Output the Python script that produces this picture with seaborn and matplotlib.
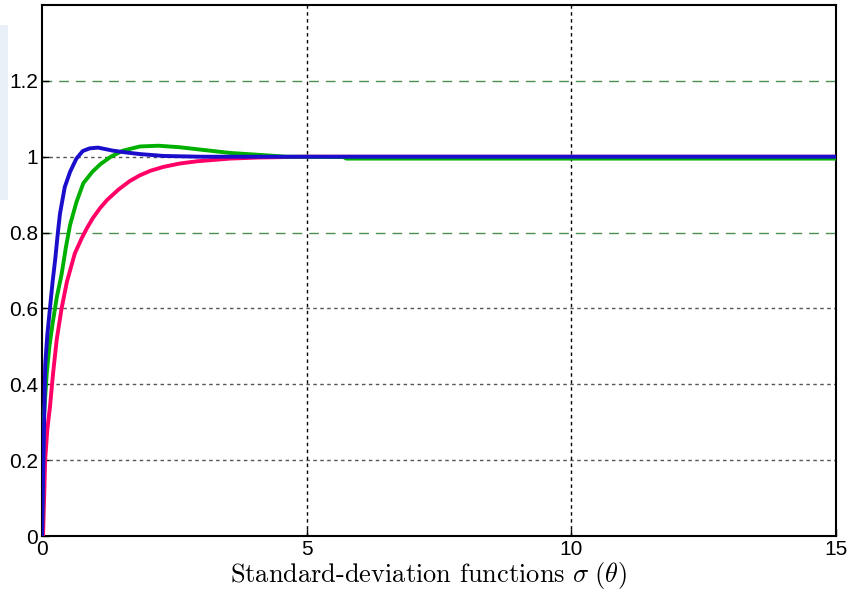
import matplotlib
matplotlib.use("Agg")
import matplotlib.pyplot as plt
import seaborn as sns
import pandas as pd
from matplotlib.patches import Rectangle

# ---- data ----
blue_x = [0, 0.04, 0.06, 0.10, 0.15, 0.20, 0.25, 0.30, 0.34, 0.43, 0.53, 0.65, 0.77, 0.90, 1.06, 1.20, 1.34, 1.60, 1.85, 2.30, 3.00, 15.0]
blue_y = [0, 0.30, 0.45, 0.53, 0.60, 0.67, 0.73, 0.80, 0.85, 0.92, 0.96, 0.995, 1.015, 1.022, 1.024, 1.020, 1.016, 1.011, 1.007, 1.002, 1.000, 1.000]

green_x = [0, 0.03, 0.09, 0.14, 0.20, 0.28, 0.37, 0.45, 0.53, 0.65, 0.78, 0.95, 1.10, 1.30, 1.53, 1.85, 2.20, 2.60, 3.04, 3.55, 4.20, 4.60, 5.70, 5.75, 15.0]
green_y = [0, 0.30, 0.43, 0.50, 0.56, 0.63, 0.69, 0.76, 0.82, 0.88, 0.93, 0.96, 0.98, 1.000, 1.016, 1.027, 1.029, 1.025, 1.018, 1.010, 1.004, 1.000, 0.999, 0.995, 0.995]

red_x = [0.02, 0.06, 0.10, 0.15, 0.21, 0.28, 0.37, 0.47, 0.62, 0.75, 0.85, 0.96, 1.10, 1.23, 1.45, 1.66, 1.85, 2.05, 2.29, 2.60, 2.93, 3.55, 4.10, 5.00, 15.0]
red_y = [0.00, 0.20, 0.28, 0.34, 0.43, 0.52, 0.60, 0.67, 0.745, 0.785, 0.812, 0.838, 0.865, 0.886, 0.914, 0.936, 0.951, 0.963, 0.973, 0.982, 0.988, 0.995, 0.998, 1.000, 1.000]

x_ticks = [0, 5, 10, 15]
y_ticks = [0, 0.2, 0.4, 0.6, 0.8, 1.0, 1.2]
y_tick_labels = ["0", "0.2", "0.4", "0.6", "0.8", "1", "1.2"]
x_label = r"Standard-deviation functions $\sigma\;(\theta)$"

plt.rcParams["mathtext.fontset"] = "cm"

fig = plt.figure(figsize=(8.51, 5.96), dpi=100)
fig.patch.set_facecolor("white")
fig.patches.append(Rectangle((0, 1 - 200 / 596), 8 / 851, 175 / 596,
                             transform=fig.transFigure, facecolor="#e9f0f8",
                             edgecolor="none", zorder=0))
ax = fig.add_axes([42 / 851, 1 - 536 / 596, 794 / 851, 531 / 596])

# grid lines
for yv in [0.2, 0.4, 0.6, 1.0]:
    ax.axhline(yv, color="#555555", lw=1.0, ls=(0, (2.5, 2.5)), zorder=1)
for yv in [0.8, 1.2]:
    ax.axhline(yv, color="#4f8f4f", lw=1.0, ls=(0, (7, 5)), zorder=1)
for xv in [5, 10]:
    ax.axvline(xv, color="black", lw=1.0, ls=(0, (2.5, 2.5)), zorder=1)

series = [("red", red_x, red_y, "#ff0066"),
          ("green", green_x, green_y, "#00b000"),
          ("blue", blue_x, blue_y, "#1a0dcc")]
for name, xs, ys, col in series:
    df = pd.DataFrame({"x": xs, "y": ys})
    sns.lineplot(data=df, x="x", y="y", ax=ax, color=col, lw=2.8,
                 sort=False, estimator=None, zorder=3)

ax.set_xlim(0, 15)
ax.set_ylim(0, 1.4)
ax.set_xticks(x_ticks)
ax.set_xticklabels([str(v) for v in x_ticks])
ax.set_yticks(y_ticks)
ax.set_yticklabels(y_tick_labels)
ax.tick_params(direction="in", length=5, width=1.0, labelsize=15,
               top=False, right=False, pad=3)
for lab in ax.get_xticklabels() + ax.get_yticklabels():
    lab.set_fontfamily("Liberation Sans")
for sp in ax.spines.values():
    sp.set_linewidth(1.5)
    sp.set_color("black")
ax.set_ylabel("")
ax.set_xlabel(x_label, fontsize=19, fontfamily="cmr10", labelpad=2)
ax.xaxis.set_label_coords(0.487, -0.045, transform=ax.transAxes)
ax.xaxis.label.set_va("top")

fig.savefig("out.png", dpi=100)
